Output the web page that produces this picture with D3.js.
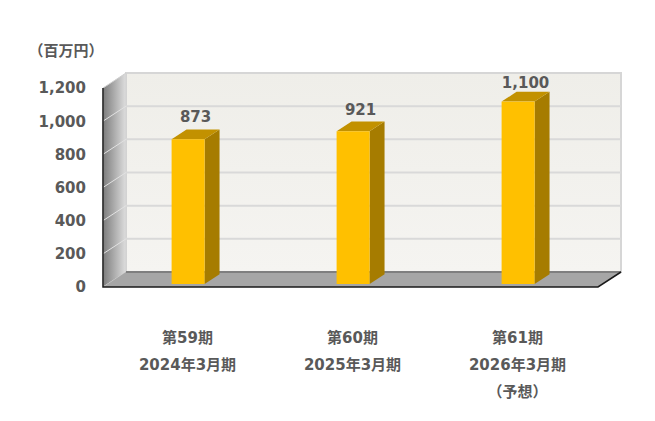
<!DOCTYPE html>
<html>
<head>
  <meta charset="utf-8">
  <title>売上高</title>
  <script src="https://d3js.org/d3.v7.min.js"></script>
  <style>
    body { margin: 0; background: #fff; }
    text { font-family: "DejaVu Sans", "Noto Sans CJK JP", sans-serif; font-weight: bold; fill: #595959; }
  </style>
</head>
<body>
  <script>
    var periods = ["第59期", "第60期", "第61期"];
    var fiscalYears = ["2024年3月期", "2025年3月期", "2026年3月期"];
    var notes = ["", "", "（予想）"];
    var values = [873, 921, 1100];
    var ticks = [0, 200, 400, 600, 800, 1000, 1200];

    var W = 655, H = 421;
    // 3D depth of the plot box
    var DX = 23, DY = -15;
    var plotLeft = 103, plotRight = 598, plotBottom = 287, plotTop = 88;

    var svg = d3.select("body").append("svg")
        .attr("width", W)
        .attr("height", H);

    var x = d3.scaleBand()
        .domain(periods)
        .range([plotLeft, plotRight]);

    var y = d3.scaleLinear()
        .domain([0, 1200])
        .range([plotBottom, plotTop]);

    var defs = svg.append("defs");
    var lg = defs.append("linearGradient").attr("id", "lwall")
        .attr("x1", 0).attr("x2", 1).attr("y1", 0).attr("y2", 0);
    lg.append("stop").attr("offset", "0%").attr("stop-color", "#7c7c7c");
    lg.append("stop").attr("offset", "100%").attr("stop-color", "#dedede");
    var bg = defs.append("linearGradient").attr("id", "bwall")
        .attr("x1", 0).attr("x2", 0).attr("y1", 0).attr("y2", 1);
    bg.append("stop").attr("offset", "0%").attr("stop-color", "#efeee9");
    bg.append("stop").attr("offset", "100%").attr("stop-color", "#f5f4f1");

    // back wall
    svg.append("rect")
        .attr("x", plotLeft + DX).attr("y", y(1200) + DY)
        .attr("width", plotRight - plotLeft).attr("height", y(0) - y(1200))
        .attr("fill", "url(#bwall)")
        .attr("stroke", "#d6d6d6").attr("stroke-width", 2);

    // left wall
    svg.append("polygon")
        .attr("points", [[plotLeft, y(0)], [plotLeft, y(1200)], [plotLeft + DX, y(1200) + DY], [plotLeft + DX, y(0) + DY]].join(" "))
        .attr("fill", "url(#lwall)")
        .attr("stroke", "#d0d0d0").attr("stroke-width", 1);

    // grid lines on back and left walls
    var grid = svg.append("g");
    grid.selectAll("line.back")
        .data(ticks.slice(1, -1))
        .enter().append("line")
          .attr("x1", plotLeft + DX).attr("x2", plotRight + DX)
          .attr("y1", d => y(d) + DY).attr("y2", d => y(d) + DY)
          .attr("stroke", "#d9d9d9").attr("stroke-width", 2);
    grid.selectAll("line.side")
        .data(ticks.slice(1, -1))
        .enter().append("line")
          .attr("x1", plotLeft).attr("x2", plotLeft + DX)
          .attr("y1", d => y(d)).attr("y2", d => y(d) + DY)
          .attr("stroke", "#e2e2e2").attr("stroke-width", 1);

    // floor
    svg.append("polygon")
        .attr("points", [[plotLeft, y(0)], [plotLeft + DX, y(0) + DY], [plotRight + DX, y(0) + DY], [plotRight, y(0)]].join(" "))
        .attr("fill", "#a6a6a6");
    svg.append("line")
        .attr("x1", plotLeft + DX).attr("x2", plotRight + DX)
        .attr("y1", y(0) + DY).attr("y2", y(0) + DY)
        .attr("stroke", "#7f7f7f").attr("stroke-width", 2);

    // front axis lines
    svg.append("path")
        .attr("d", "M" + plotLeft + "," + y(1200) + "V" + y(0) + "H" + plotRight + "L" + (plotRight + DX) + "," + (y(0) + DY))
        .attr("fill", "none")
        .attr("stroke", "#1a1a1a").attr("stroke-width", 1.5);

    // y tick labels
    svg.append("g").selectAll("text")
        .data(ticks)
        .enter().append("text")
          .attr("x", 86)
          .attr("y", d => y(d))
          .attr("dy", "0.36em")
          .attr("text-anchor", "end")
          .style("font-size", "15px")
          .text(d => d3.format(",")(d));

    svg.append("text")
        .attr("x", 66).attr("y", 51)
        .attr("dy", "0.35em")
        .attr("text-anchor", "middle")
        .style("font-size", "15px")
        .text("（百万円）");

    // bars
    var barW = 33, bz = 0.2, bd = 0.65;
    var bdx = DX * bd, bdy = DY * bd;
    var data = periods.map((p, i) => ({ key: p, value: values[i] }));
    var bars = svg.append("g").selectAll("g")
        .data(data)
        .enter().append("g")
          .attr("transform", d => "translate(" + (x(d.key) + (x.bandwidth() - barW) / 2 - 2 + DX * bz) + "," + (DY * bz) + ")");

    bars.append("polygon")
        .attr("points", d => [[barW, y(d.value)], [barW + bdx, y(d.value) + bdy], [barW + bdx, y(0) + bdy], [barW, y(0)]].join(" "))
        .attr("fill", "#a67c00");
    bars.append("polygon")
        .attr("points", d => [[0, y(d.value)], [bdx, y(d.value) + bdy], [barW + bdx, y(d.value) + bdy], [barW, y(d.value)]].join(" "))
        .attr("fill", "#c29100");
    bars.append("rect")
        .attr("x", 0).attr("y", d => y(d.value))
        .attr("width", barW).attr("height", d => y(0) - y(d.value))
        .attr("fill", "#ffc000");
    bars.append("text")
        .attr("x", (barW + bdx) / 2)
        .attr("y", d => y(d.value) + bdy - (d.value > 1000 ? 4 : 7))
        .attr("text-anchor", "middle")
        .style("font-size", "15px")
        .text(d => d3.format(",")(d.value));

    // category labels
    var cats = svg.append("g").selectAll("g")
        .data(periods.map((p, i) => [p, fiscalYears[i], notes[i]]))
        .enter().append("g")
          .attr("transform", d => "translate(" + (x(d[0]) + x.bandwidth() / 2 + 2) + ",0)");
    cats.selectAll("text")
        .data(d => d)
        .enter().append("text")
          .attr("x", 0)
          .attr("y", (d, i) => 338 + i * 27)
          .attr("dy", "0.36em")
          .attr("text-anchor", "middle")
          .style("font-size", "15px")
          .text(d => d);
  </script>
</body>
</html>
